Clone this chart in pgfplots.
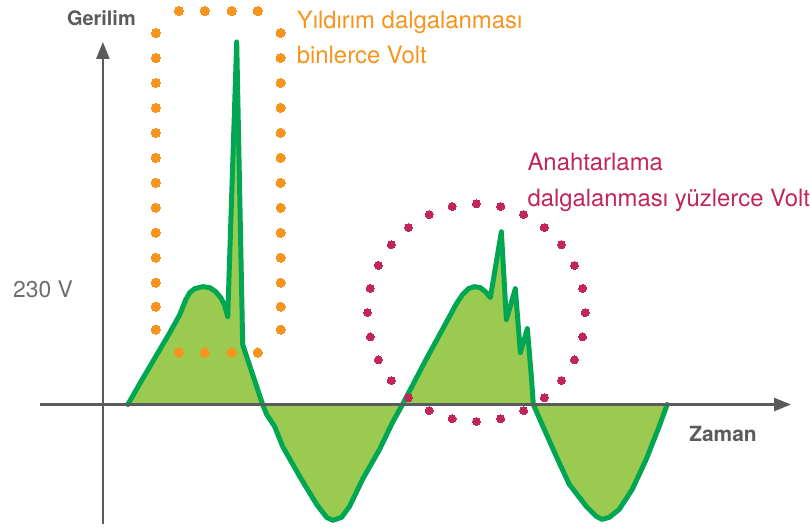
\documentclass[border=0pt]{standalone}
\usepackage{pgfplots}
\pgfplotsset{compat=1.18}
\usepackage{fontspec}
\setmainfont{TeX Gyre Heros}
\usetikzlibrary{arrows.meta}
\definecolor{wgreen}{HTML}{00A651}
\definecolor{wfill}{HTML}{9ACB50}
\definecolor{worange}{HTML}{F7941D}
\definecolor{wred}{HTML}{C2255C}
\definecolor{agray}{HTML}{5A5B5D}
\definecolor{lgray}{HTML}{6D6E71}
\begin{document}
\begin{tikzpicture}
\begin{axis}[width=810bp, height=527bp, scale only axis,
  xmin=0, xmax=810, ymin=0, ymax=527, y dir=reverse,
  hide axis, clip=false]
\addplot[draw=none] coordinates {(0,0)(810,527)};
% waveform fill
\addplot[fill=wfill, draw=none] coordinates {
(128,405)(140,384)(150,367)(160,350)(170,333)(180,315)(186,300)(190,293)(195,289)(203,287)(210,288)(216,292)(221,298)(225,306)(228,317)
(237,42)(243,345)(263,405)(267,415)(275,427)(283,447)(300,477)(317,505)(327,518)(333,521)(342,518)(350,507)(363,480)(380,450)(393,423)(403,405)
(426,361)(450,317)(457,304)(463,295)(469,289)(475,287)(481,288)(486,292)(491,298)(502,232)(507,320)(516,289)(521,353)(528,329)(532,377)(534,405)
(545,430)(557,457)(570,485)(587,507)(597,517)(603,520)(610,518)(620,510)(633,490)(647,460)(660,427)(668,405)} -- cycle;
% waveform line
\addplot[draw=wgreen, line width=5pt, line join=round, line cap=round] coordinates {
(128,405)(140,384)(150,367)(160,350)(170,333)(180,315)(186,300)(190,293)(195,289)(203,287)(210,288)(216,292)(221,298)(225,306)(228,317)
(237,42)(243,345)(263,405)(267,415)(275,427)(283,447)(300,477)(317,505)(327,518)(333,521)(342,518)(350,507)(363,480)(380,450)(393,423)(403,405)
(426,361)(450,317)(457,304)(463,295)(469,289)(475,287)(481,288)(486,292)(491,298)(502,232)(507,320)(516,289)(521,353)(528,329)(532,377)(534,405)
(545,430)(557,457)(570,485)(587,507)(597,517)(603,520)(610,518)(620,510)(633,490)(647,460)(660,427)(668,405)};
% axes
\addplot[draw=agray, line width=2.5pt, -{Triangle[length=17pt,width=13pt]}] coordinates {(103,525)(103,42)};
\addplot[draw=agray, line width=2.5pt, -{Triangle[length=17pt,width=13pt]}] coordinates {(40,405)(792,405)};
% orange dotted rounded rectangle
\addplot[color=worange, only marks, mark=*, mark size=4.6pt, mark options={fill=worange, draw=worange, line width=0pt}] coordinates {
(179,11)(205,11)(232,11)(258,11)
(156,33)(156,58)(156,83)(156,108)(156,133)(156,158)(156,183)(156,208)(156,233)(156,258)(156,283)(156,307)(156,330)
(281,33)(281,58)(281,83)(281,108)(281,133)(281,158)(281,183)(281,208)(281,233)(281,258)(281,283)(281,307)(281,330)
(179,353)(205,353)(232,353)(258,353)};
% crimson dotted circle
\addplot[color=wred, only marks, mark=*, mark size=4pt, mark options={fill=wred, draw=wred, line width=0pt}] coordinates {
(477,204)(452.7,206.7)(429.7,214.8)(409.0,227.8)(391.8,245.0)(378.8,265.7)(370.7,288.7)(368,313)
(370.7,337.3)(378.8,360.3)(391.8,381.0)(409.0,398.2)(429.7,411.2)(452.7,419.3)(477,422)
(501.3,419.3)(524.3,411.2)(545.0,398.2)(562.2,381.0)(575.2,360.3)(583.3,337.3)(586,313)
(583.3,288.7)(575.2,265.7)(562.2,245.0)(545.0,227.8)(524.3,214.8)(501.3,206.7)};
% texts
\node[anchor=base west, inner sep=0, text=agray, font=\fontsize{20}{22}\selectfont\bfseries] at (axis cs:67,26) {Gerilim};
\node[anchor=base west, inner sep=0, text=agray, font=\fontsize{21}{24}\selectfont\bfseries] at (axis cs:690,442) {Zaman};
\node[anchor=base west, inner sep=0, text=lgray, font=\fontsize{23}{26}\selectfont] at (axis cs:13,298) {230 V};
\node[anchor=base west, inner sep=0, text=worange, font=\fontsize{24}{28}\selectfont] at (axis cs:297,28.3) {Yıldırım dalgalanması};
\node[anchor=base west, inner sep=0, text=worange, font=\fontsize{24}{28}\selectfont] at (axis cs:297,63.3) {binlerce Volt};
\node[anchor=base west, inner sep=0, text=wred, font=\fontsize{24}{28}\selectfont] at (axis cs:528,171) {Anahtarlama};
\node[anchor=base west, inner sep=0, text=wred, font=\fontsize{24}{28}\selectfont] at (axis cs:528,207) {dalgalanması yüzlerce Volt};
\end{axis}
\end{tikzpicture}
\end{document}
